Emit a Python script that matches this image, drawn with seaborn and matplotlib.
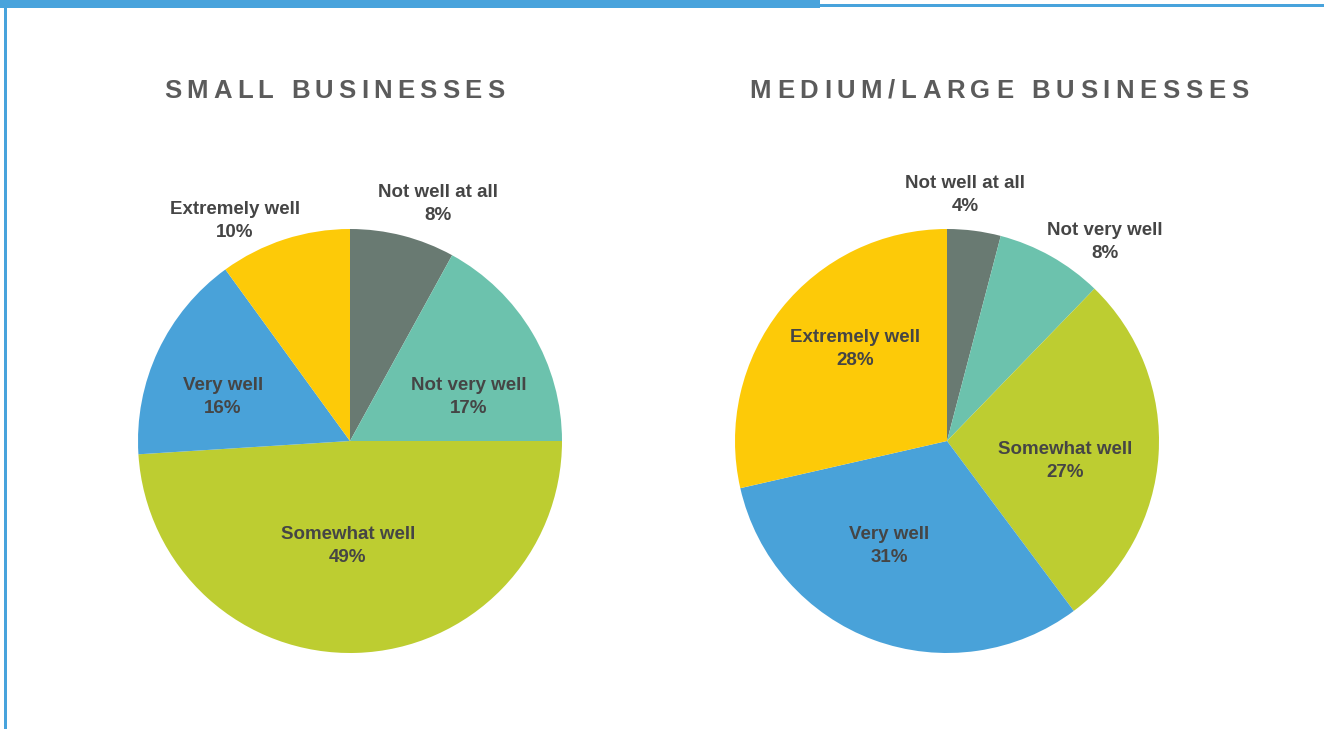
import matplotlib
matplotlib.use("Agg")
import matplotlib.pyplot as plt
from matplotlib.patches import Rectangle
import seaborn as sns

# Survey responses: how well each group is doing
categories = ["Not well at all", "Not very well", "Somewhat well", "Very well", "Extremely well"]
small_values = [8, 17, 49, 16, 10]
medium_large_values = [4, 8, 27, 31, 28]
titles = ["SMALL BUSINESSES", "MEDIUM/LARGE BUSINESSES"]

colors = ["#697a72", "#6cc2ad", "#bdcd31", "#49a2d9", "#fdca08"]
text_color = "#454545"
title_color = "#5b5b5b"
frame_blue = "#48a3dc"

sns.set_theme(style="white")
plt.rcParams["font.family"] = ["Liberation Sans", "DejaVu Sans"]

W, H = 1324, 729
fig = plt.figure(figsize=(W / 100, H / 100), dpi=100)
fig.patch.set_facecolor("white")

# label placement in pie-radius units (x, y relative to the centre)
small_label_pos = [(0.415, 1.118), (0.561, 0.208), (-0.01, -0.495), (-0.599, 0.208), (-0.542, 1.038)]
ml_label_pos = [(0.085, 1.16), (0.745, 0.939), (0.557, -0.094), (-0.274, -0.495), (-0.434, 0.434)]

R = 212
span = 1.3
centres = [(350, 441), (947, 441)]


def draw_pie(centre, values, label_pos):
    cx, cy = centre
    half = span * R
    ax = fig.add_axes([(cx - half) / W, (H - cy - half) / H, 2 * half / W, 2 * half / H])
    ax.pie(values, colors=colors, startangle=90, counterclock=False,
           radius=1.0, wedgeprops=dict(linewidth=0))
    ax.set_xlim(-span, span)
    ax.set_ylim(-span, span)
    ax.set_aspect("equal")
    ax.axis("off")
    for cat, val, (lx, ly) in zip(categories, values, label_pos):
        ax.text(lx, ly, f"{cat}\n{val}%", ha="center", va="center",
                fontsize=13.5, fontweight="bold", color=text_color, linespacing=1.45)
    return ax


draw_pie(centres[0], small_values, small_label_pos)
draw_pie(centres[1], medium_large_values, ml_label_pos)

# letter-spaced headings
fig.canvas.draw()
renderer = fig.canvas.get_renderer()


def text_width(s, size):
    t = fig.text(0, 0, s, fontsize=size, fontweight="bold")
    w = t.get_window_extent(renderer).width
    t.remove()
    return w


def spaced_title(text, cx, cy, size, tracking):
    ref = text_width("XX", size)
    adv = [text_width("X" + ch + "X", size) - ref for ch in text]
    total = sum(adv) + tracking * (len(text) - 1)
    x = cx - total / 2
    for ch, a in zip(text, adv):
        fig.text(x / W, 1 - cy / H, ch, fontsize=size, fontweight="bold",
                 color=title_color, ha="left", va="center")
        x += a + tracking


spaced_title(titles[0], 334, 91, 18.5, 5.2)
spaced_title(titles[1], 999, 91, 18.5, 5.6)

# frame: thick top band on the left, thin rule on the right, left edge
fig.add_artist(Rectangle((0, 1 - 7.5 / H), 820 / W, 7.5 / H, transform=fig.transFigure,
                         facecolor=frame_blue, edgecolor="none"))
fig.add_artist(Rectangle((820 / W, 1 - 7 / H), (W - 820) / W, 3 / H, transform=fig.transFigure,
                         facecolor=frame_blue, edgecolor="none"))
fig.add_artist(Rectangle((3.5 / W, 0), 3 / W, 1, transform=fig.transFigure,
                         facecolor=frame_blue, edgecolor="none"))

fig.savefig("out.png", dpi=100, facecolor="white")
